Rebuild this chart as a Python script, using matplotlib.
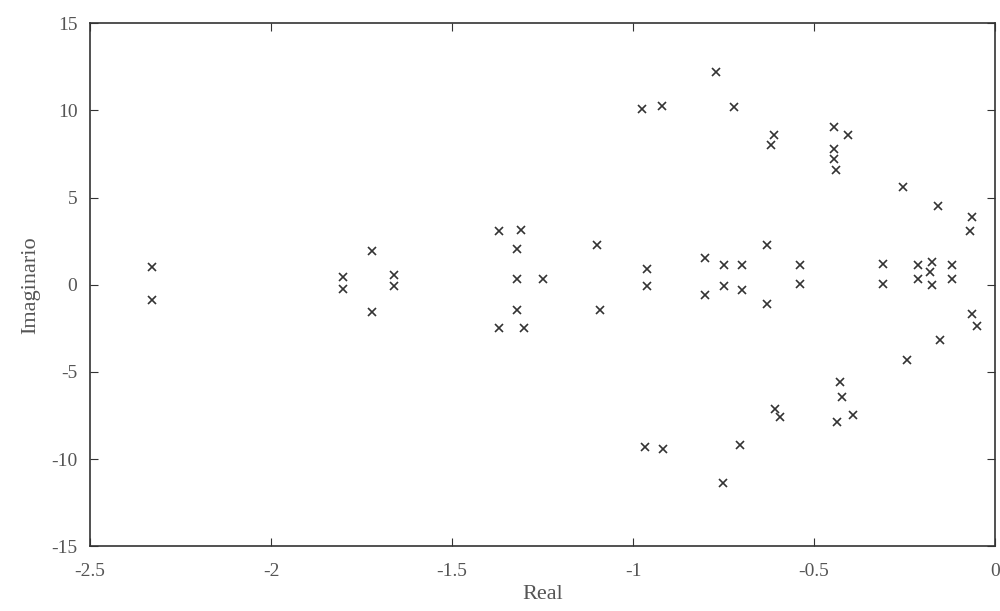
import numpy as np
import matplotlib.pyplot as plt

# polos (parte real, parte imaginaria)
real_part = [
    -2.33, -2.33,
    -1.80, -1.80, -1.72, -1.66, -1.66, -1.72,
    -1.37, -1.31, -1.32, -1.32, -1.25, -1.32, -1.37, -1.30,
    -1.10, -1.09, -0.96, -0.96,
    -0.975, -0.92, -0.77, -0.72, -0.62, -0.61,
    -0.445, -0.405, -0.445, -0.445, -0.44,
    -0.254, -0.157, -0.063, -0.07,
    -0.80, -0.75, -0.70, -0.63, -0.54, -0.54, -0.80, -0.75, -0.70, -0.63,
    -0.31, -0.31, -0.213, -0.174, -0.18, -0.213, -0.174, -0.119, -0.119,
    -0.064, -0.05,
    -0.152, -0.243, -0.428, -0.423, -0.436, -0.392, -0.608, -0.594,
    -0.704, -0.751, -0.967, -0.917,
]
imag_part = [
    1.0, -0.9,
    0.45, -0.25, 1.95, 0.55, -0.05, -1.55,
    3.1, 3.15, 2.05, 0.3, 0.3, -1.45, -2.5, -2.5,
    2.3, -1.45, 0.9, -0.1,
    10.1, 10.25, 12.2, 10.2, 8.0, 8.6,
    9.05, 8.6, 7.8, 7.2, 6.6,
    5.6, 4.5, 3.9, 3.1,
    1.55, 1.15, 1.15, 2.3, 1.15, 0.05, -0.6, -0.1, -0.3, -1.1,
    1.2, 0.05, 1.15, 1.3, 0.75, 0.3, 0.0, 1.15, 0.35,
    -1.7, -2.35,
    -3.15, -4.3, -5.6, -6.45, -7.85, -7.45, -7.1, -7.6,
    -9.2, -11.4, -9.3, -9.4,
]

plt.rcParams['font.family'] = ['Liberation Serif', 'DejaVu Serif']

fig = plt.figure(figsize=(10, 6.11), dpi=100)
ax = fig.add_axes([0.09, 0.106, 0.905, 0.856])

ax.plot(real_part, imag_part, 'x', color='#333333', markersize=6, markeredgewidth=1.2)

ax.set_xlim(-2.5, 0)
ax.set_ylim(-15, 15)
ax.set_xticks(np.arange(-2.5, 0.01, 0.5))
ax.set_xticklabels(['-2.5', '-2', '-1.5', '-1', '-0.5', '0'])
ax.set_yticks(np.arange(-15, 16, 5))
ax.set_yticklabels(['-15', '-10', '-5', '0', '5', '10', '15'])
ax.tick_params(direction='in', top=True, right=True, length=6, labelsize=14,
               labelcolor='#555555', color='#333333')
ax.tick_params(axis='x', pad=12)
ax.tick_params(axis='y', pad=9)
for s in ax.spines.values():
    s.set_color('#333333')
    s.set_linewidth(1.2)

ax.set_xlabel('Real', fontsize=16, color='#555555', labelpad=4)
ax.set_ylabel('Imaginario', fontsize=16, color='#555555', labelpad=8)

plt.savefig('out.png', dpi=100)
